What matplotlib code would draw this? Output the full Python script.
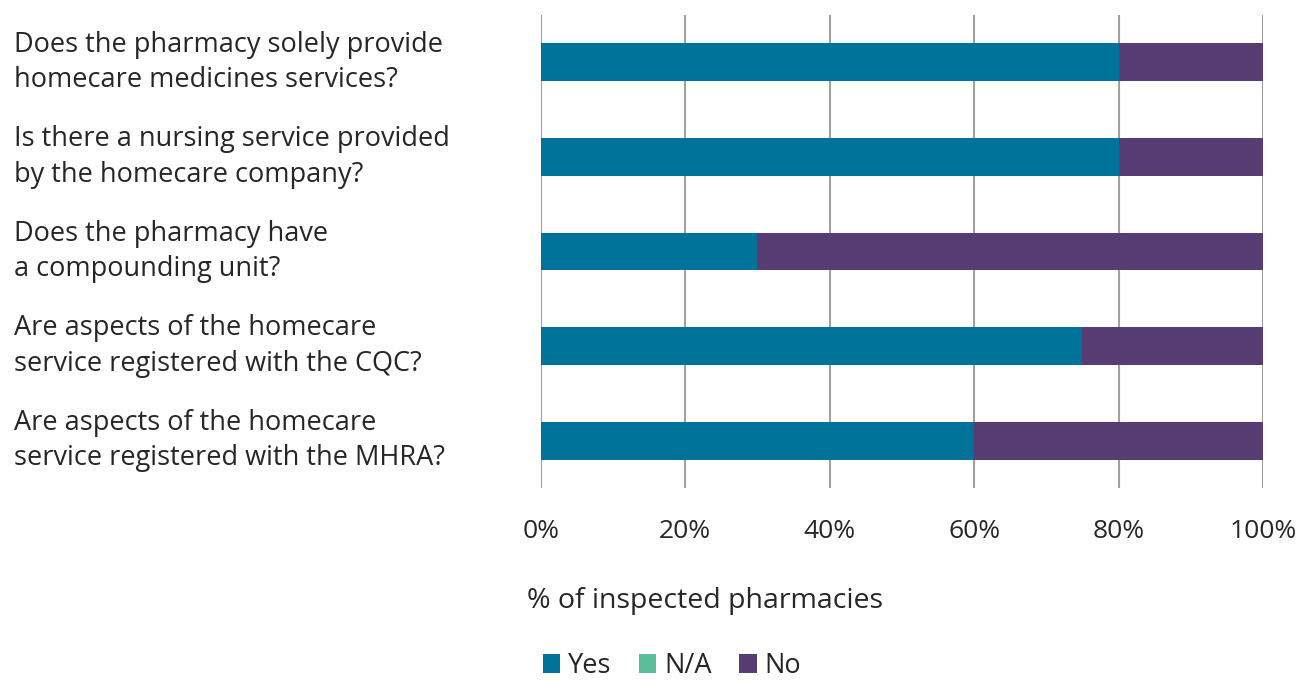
import matplotlib.pyplot as plt
import matplotlib.transforms as mtransforms
import numpy as np
from matplotlib.ticker import PercentFormatter

plt.rcParams['font.family'] = ['Open Sans', 'DejaVu Sans']

# ── Data ───────────────────────────────────────────────────────────────────
questions = [
    'Does the pharmacy solely provide\nhomecare medicines services?',
    'Is there a nursing service provided\nby the homecare company?',
    'Does the pharmacy have\na compounding unit?',
    'Are aspects of the homecare\nservice registered with the CQC?',
    'Are aspects of the homecare\nservice registered with the MHRA?',
]
yes_pct = [80, 80, 30, 75, 60]
na_pct = [0, 0, 0, 0, 0]
no_pct = [20, 20, 70, 25, 40]
x_ticks = [0, 20, 40, 60, 80, 100]

colors = {'Yes': '#00739A', 'N/A': '#5BBD9A', 'No': '#583C74'}
text_col = '#262626'
fs = 19.5

fig = plt.figure(figsize=(13, 6.82), dpi=100)
ax = fig.add_axes([0.416, 0.2845, 0.5555, 0.6935])

y = np.arange(len(questions))
h = 0.4
left = np.zeros(len(questions))
for name, vals in [('Yes', yes_pct), ('N/A', na_pct), ('No', no_pct)]:
    vals = np.array(vals, dtype=float)
    ax.barh(y, vals, h, left=left, color=colors[name], label=name, zorder=3)
    left += vals

ax.set_ylim(len(questions) - 0.5, -0.5)
ax.set_xlim(0, 100)
ax.set_xticks(x_ticks)
ax.xaxis.set_major_formatter(PercentFormatter(decimals=0))
ax.grid(axis='x', color='#a0a0a0', lw=1.5, zorder=0)
for s in ax.spines.values():
    s.set_visible(False)
ax.tick_params(axis='x', length=0, pad=22, labelsize=19, labelcolor=text_col)
ax.tick_params(axis='y', length=0)
ax.set_yticks([])

# question labels, left-aligned at the figure edge
trans = mtransforms.blended_transform_factory(fig.transFigure, ax.transData)
for yi, q in zip(y, questions):
    ax.text(14 / 1300, yi, q, transform=trans, ha='left', va='center',
            fontsize=fs, color=text_col, linespacing=1.35)

fig.text(527 / 1300, 1 - 601 / 682, '% of inspected pharmacies',
         ha='left', va='center', fontsize=20.5, color=text_col)

handles, labels = ax.get_legend_handles_labels()
fig.legend(handles, labels, loc='center', bbox_to_anchor=(672 / 1300, 1 - 666 / 682),
           ncol=3, frameon=False, fontsize=fs, handlelength=0.65, handleheight=0.65,
           handletextpad=0.3, columnspacing=1.0, labelcolor=text_col,
           borderpad=0.2)

plt.savefig('out.png', dpi=100)
plt.close()
